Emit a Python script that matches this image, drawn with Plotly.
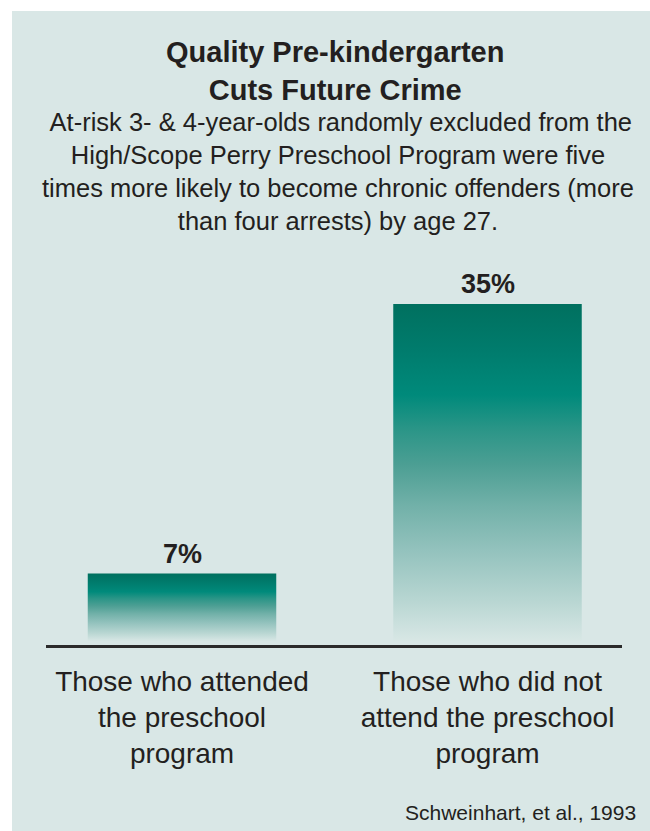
import plotly.graph_objects as go

# ---- data ----
categories = ["Those who attended<br>the preschool<br>program",
              "Those who did not<br>attend the preschool<br>program"]
values = [7, 35]
value_labels = ["7%", "35%"]
title_text = "Quality Pre-kindergarten<br>Cuts Future Crime"
subtitle_text = (" At-risk 3- & 4-year-olds randomly excluded from the<br>"
                 "High/Scope Perry Preschool Program were five<br>"
                 "times more likely to become chronic offenders (more<br>"
                 "than four arrests) by age 27.")
source_text = "Schweinhart, et al., 1993"

# ---- layout geometry (pixels) ----
W, H = 650, 831
L, R, T, B = 46, 28, 250, 186
PW, PH = W - L - R, H - T - B
PB = H - B

def px_x(p):
    return (p - L) / PW

def px_y(p):
    return (PB - p) / PH

BG = "#d9e7e6"
TXT = "#231f20"
bar_width = 0.617
grad = [[0.0, "#d8e7e5"], [0.12, "#b8d6d2"], [0.27, "#93c2bd"], [0.4, "#72b1a9"],
        [0.52, "#4d9f94"], [0.63, "#2a9587"], [0.73, "#008a7b"], [0.87, "#007b6c"],
        [1.0, "#00705f"]]

fig = go.Figure()
for i, v in enumerate(values):
    x0, x1 = i - bar_width / 2, i + bar_width / 2
    fig.add_trace(go.Scatter(
        x=[x0, x1, x1, x0, x0], y=[0, 0, v, v, 0],
        mode="lines", fill="toself", line=dict(width=0, color="rgba(0,0,0,0)"),
        fillgradient=dict(type="vertical", colorscale=grad),
        hoverinfo="skip", showlegend=False))
    fig.add_annotation(x=i, y=v, xref="x", yref="y", text=value_labels[i],
                       showarrow=False, yanchor="middle", yshift=20,
                       font=dict(family="Liberation Sans, Arial, sans-serif",
                                 size=27, color=TXT, weight="bold"))

# white frame strips (top and left) around the tinted panel
fig.add_shape(type="rect", xref="paper", yref="paper", layer="below",
              x0=px_x(-2), x1=px_x(660), y0=px_y(11), y1=px_y(-2),
              fillcolor="white", line=dict(width=0))
fig.add_shape(type="rect", xref="paper", yref="paper", layer="below",
              x0=px_x(-2), x1=px_x(12), y0=px_y(840), y1=px_y(-2),
              fillcolor="white", line=dict(width=0))

fig.add_annotation(xref="paper", yref="paper", x=px_x(335), y=px_y(70.5),
                   text=title_text, showarrow=False, xanchor="center", yanchor="middle",
                   font=dict(family="Liberation Sans, Arial, sans-serif",
                             size=29, color=TXT, weight="bold"))
fig.add_annotation(xref="paper", yref="paper", x=px_x(338), y=px_y(171),
                   text=subtitle_text, showarrow=False, xanchor="center", yanchor="middle",
                   font=dict(family="Liberation Sans, Arial, sans-serif", size=25.5, color=TXT))
fig.add_annotation(xref="paper", yref="paper", x=px_x(638), y=px_y(812),
                   text=source_text, showarrow=False, xanchor="right", yanchor="middle",
                   font=dict(family="Liberation Sans, Arial, sans-serif", size=21, color=TXT))

ymin = -4 / 9.629
ymax = ymin + PH / 9.629
xmin = -(182 - L) / 305.5
xmax = xmin + PW / 305.5

fig.update_layout(
    width=W, height=H, margin=dict(l=L, r=R, t=T, b=B, pad=0),
    paper_bgcolor=BG, plot_bgcolor="rgba(0,0,0,0)",
    showlegend=False,
    xaxis=dict(range=[xmin, xmax], tickvals=[0, 1], ticktext=categories,
               showgrid=False, zeroline=False, showline=True, linecolor="#2b2b2b",
               linewidth=3, ticks="", ticklabelstandoff=9,
               tickfont=dict(family="Liberation Sans, Arial, sans-serif", size=28, color=TXT),
               fixedrange=True),
    yaxis=dict(range=[ymin, ymax], visible=False, fixedrange=True),
)

fig.write_html("out.html", config={"displayModeBar": False},
               post_script=("document.body.style.margin='0';"
                            "document.body.style.overflow='hidden';"
                            "document.body.style.background='" + BG + "';"))
